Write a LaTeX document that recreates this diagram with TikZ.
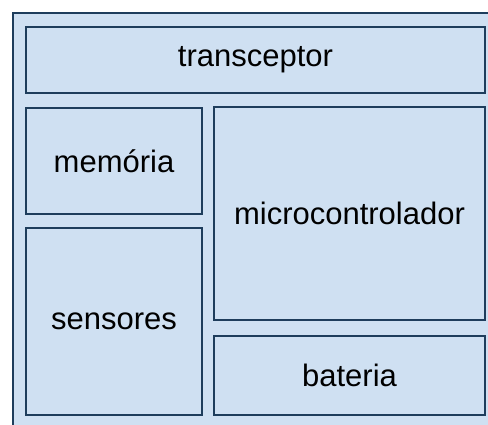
\documentclass[tikz,border=0pt]{standalone}
\usepackage{fontspec}
\setmainfont{Liberation Sans}
\definecolor{boardfill}{HTML}{CFE0F2}
\definecolor{boardline}{HTML}{1E3D5C}
\tikzstyle{module}=[draw=boardline, fill=boardfill, text=black, line width=2.8pt, inner sep=0pt, font=\fontsize{31}{37}\selectfont]

\begin{document}
\begin{tikzpicture}[x=1pt, y=-1pt]
\useasboundingbox (0,0) rectangle (488,424);
\clip (0,0) rectangle (488,424);
% Board
    \draw[draw=boardline, fill=boardfill, line width=2.8pt] (13,13) rectangle (500,440);
% Modules
    \node[module, minimum width=459pt, minimum height=66pt] (trans) at (255.5,60) {transceptor};
    \node[module, minimum width=176pt, minimum height=106pt] (mem) at (114,161) {memória};
    \node[module, minimum width=271pt, minimum height=213pt] (micro) at (349.5,213.5) {microcontrolador};
    \node[module, minimum width=176pt, minimum height=187pt] (sens) at (114,321.5) {sensores};
    \node[module, minimum width=271pt, minimum height=79pt] (bat) at (349.5,375.5) {bateria};
\end{tikzpicture}
\end{document}
